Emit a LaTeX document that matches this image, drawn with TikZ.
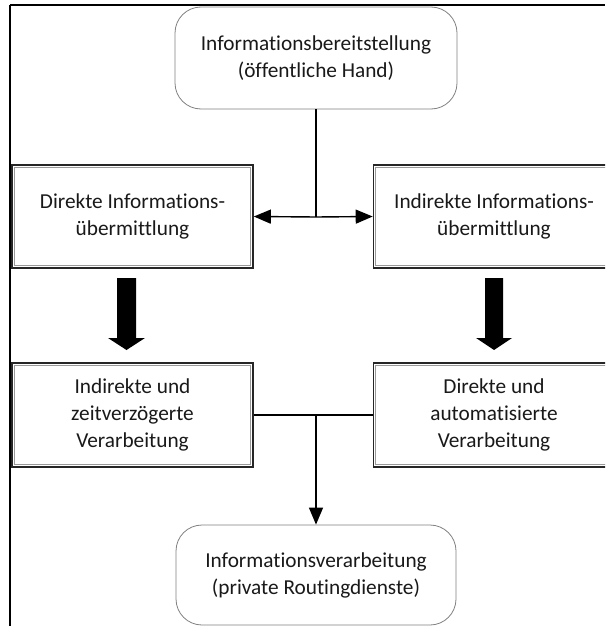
\documentclass[tikz,border=0pt]{standalone}
\usepackage{fontspec}
\setmainfont[Ligatures=NoCommon]{Carlito}
\usetikzlibrary{arrows.meta,calc}
\begin{document}
\begin{tikzpicture}[x=1pt,y=-1pt,
  every node/.style={font=\fontsize{21.3}{27}\selectfont, align=center, inner sep=0pt, text=black!90},
  roundbox/.style={draw=black!50, line width=0.8pt, rounded corners=26pt,
                   minimum width=282pt, minimum height=102pt},
  framebox/.style={draw=black!85, line width=1.6pt,
                   minimum width=241pt, minimum height=103pt},
  innerline/.style={draw=black!40, line width=1pt},
  conn/.style={line width=1.4pt},
  tip/.style={-{Triangle[length=17pt,width=14pt]}},
  bigarrow/.style={fill=black}
]
\useasboundingbox (0,0) rectangle (605,626);
\clip (0,0) rectangle (605,626);

% frame edges
\draw[line width=1.4pt] (10,5) -- (605,5);
\draw[line width=1.4pt] (10,5) -- (10,626);

% top and bottom rounded boxes
\node[roundbox] (src) at (316,58) {Informationsbereitstellung\\(öffentliche Hand)};
\node[roundbox, minimum width=280pt, minimum height=100pt] (dst) at (316,575)
  {Informationsverarbeitung\\(private Routingdienste)};

% framed process boxes
\node[framebox] (dl) at (132.5,216.5) {Direkte Informations-\\übermittlung};
\node[framebox] (il) at (494,216.5) {Indirekte Informations-\\übermittlung};
\node[framebox, minimum height=104pt] (ll) at (132.5,415) {Indirekte und\\zeitverzögerte\\Verarbeitung};
\node[framebox, minimum height=104pt] (lr) at (494,415) {Direkte und\\automatisierte\\Verarbeitung};

% inner gray rule of the framed boxes
\foreach \n in {dl,il,ll,lr}{
  \draw[innerline] ([shift={(3.2pt,-3.2pt)}]\n.north west) rectangle ([shift={(-3.2pt,3.2pt)}]\n.south east);
}

% branch from the source box
\coordinate (split) at (316,217);
\draw[conn] (src.south) -- (split);
\draw[conn,tip] (split) -- (dl.east);
\draw[conn,tip] (split) -- (il.west);

% merge into the destination box
\coordinate (merge) at (316,415);
\draw[conn] (ll.east) -- (lr.west);
\draw[conn,tip] (merge) -- (dst.north);

% block arrows between the framed boxes
\fill[bigarrow] (117,278) -- (136,278) -- (136,338) -- (145,338) -- (126.5,350)
  -- (108,338) -- (117,338) -- cycle;
\fill[bigarrow] (485,278) -- (503,278) -- (503,338) -- (512,338) -- (494,350)
  -- (476,338) -- (485,338) -- cycle;
\end{tikzpicture}
\end{document}
